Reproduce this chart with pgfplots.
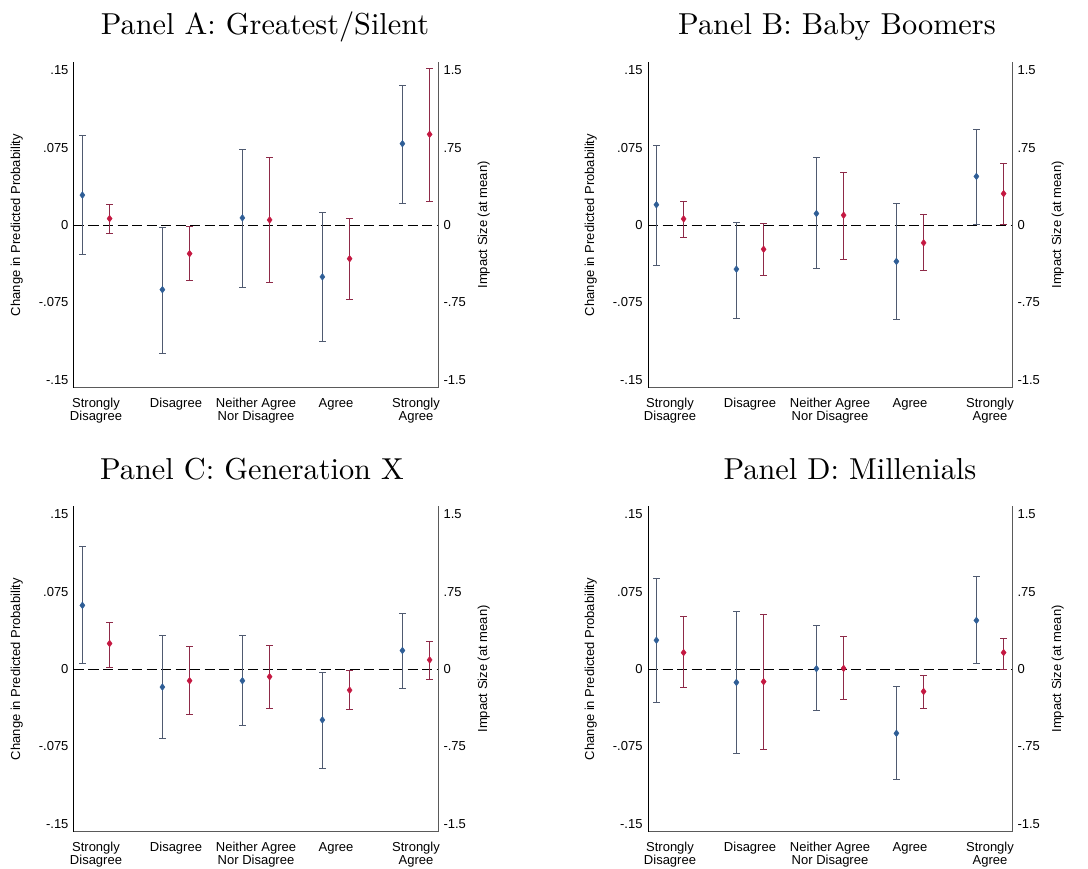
\documentclass[border=0pt]{standalone}
\usepackage{pgfplots}
\pgfplotsset{compat=1.18}
\usepackage{pgfplotstable}
\usepackage{fontspec}
\newfontfamily\arial{Liberation Sans}
\definecolor{bmark}{HTML}{2F5E96}
\definecolor{bci}{HTML}{4F5A70}
\definecolor{rmark}{HTML}{C41841}
\definecolor{rci}{HTML}{8E2A48}
\definecolor{axgray}{HTML}{5A5A5A}

% columns: xb = blue position, by/blo/bhi = change in predicted probability (left axis)
%          xr = red position, ry/rlo/rhi = impact size at mean (right axis)
\pgfplotstableread{
xb by blo bhi xr ry rlo rhi
0.83 0.0290 -0.0290 0.0870 1.17 0.062 -0.082 0.200
1.83 -0.0627 -0.1248 -0.0026 2.17 -0.278 -0.539 -0.013
2.83 0.0069 -0.0608 0.0735 3.17 0.049 -0.559 0.654
3.83 -0.0503 -0.1131 0.0118 4.17 -0.327 -0.725 0.065
4.83 0.0788 0.0212 0.1353 5.17 0.879 0.229 1.513
}\dataA
\pgfplotstableread{
xb by blo bhi xr ry rlo rhi
0.83 0.0196 -0.0395 0.0771 1.17 0.059 -0.121 0.229
1.83 -0.0428 -0.0902 0.0026 2.17 -0.235 -0.493 0.013
2.83 0.0111 -0.0425 0.0650 3.17 0.095 -0.333 0.513
3.83 -0.0353 -0.0918 0.0212 4.17 -0.173 -0.441 0.101
4.83 0.0471 0.0007 0.0925 5.17 0.304 0.003 0.595
}\dataB
\pgfplotstableread{
xb by blo bhi xr ry rlo rhi
0.83 0.0617 0.0052 0.1188 1.17 0.247 0.016 0.455
1.83 -0.0175 -0.0672 0.0321 2.17 -0.114 -0.445 0.214
2.83 -0.0114 -0.0552 0.0321 3.17 -0.075 -0.383 0.224
3.83 -0.0494 -0.0961 -0.0032 4.17 -0.205 -0.396 -0.016
4.83 0.0179 -0.0185 0.0542 5.17 0.088 -0.097 0.266
}\dataC
\pgfplotstableread{
xb by blo bhi xr ry rlo rhi
0.83 0.0279 -0.0325 0.0877 1.17 0.159 -0.182 0.506
1.83 -0.0130 -0.0818 0.0555 2.17 -0.123 -0.782 0.532
2.83 0.0003 -0.0406 0.0419 3.17 0.006 -0.299 0.312
3.83 -0.0623 -0.1075 -0.0172 4.17 -0.218 -0.383 -0.062
4.83 0.0471 0.0049 0.0893 5.17 0.159 0.000 0.295
}\dataD

\newcommand\sfsmall{\arial\fontsize{13bp}{13bp}\selectfont}

\pgfplotsset{
  common/.style={
    anchor=south west, width=364bp, height=326bp, scale only axis,
    xmin=0.725, xmax=5.275, major tick length=0pt,
    tick label style={font=\sfsmall},
    label style={font=\sfsmall},
  },
  leftax/.style={
    common,
    ymin=-0.158, ymax=0.158,
    axis x line*=bottom, axis y line*=left,
    x axis line style={axgray, line width=1bp, -},
    y axis line style={black, line width=1bp, -},
    xtick={1,2,3,4,5},
    xticklabels={{Strongly\\Disagree},Disagree,{Neither Agree\\Nor Disagree},Agree,{Strongly\\Agree}},
    xticklabel style={align=center, yshift=-7bp},
    yticklabel style={xshift=-2bp},
    ytick={-0.15,-0.075,0,0.075,0.15},
    yticklabels={-.15,-.075,0,.075,.15},
    ylabel={Change in Predicted Probability},
    ylabel style={at={(axis description cs:-0.157,0.5)}, anchor=center},
  },
  rightax/.style={
    common,
    ymin=-1.58, ymax=1.58,
    hide x axis,
    axis y line*=right,
    y axis line style={axgray, line width=1bp, -},
    yticklabel style={xshift=2bp},
    ytick={-1.5,-0.75,0,0.75,1.5},
    yticklabels={-1.5,-.75,0,.75,1.5},
    ylabel={Impact Size (at mean)},
    ylabel style={at={(axis description cs:1.126,0.5)}, anchor=center},
  },
  bluepts/.style={only marks, mark=diamond*, mark size=3.4bp, color=bmark,
    error bars/.cd, y dir=both, y explicit,
    error bar style={bci, line width=0.9bp},
    error mark options={rotate=90, bci, line width=0.9bp, mark size=3.2bp}},
  redpts/.style={only marks, mark=diamond*, mark size=3.4bp, color=rmark,
    error bars/.cd, y dir=both, y explicit,
    error bar style={rci, line width=0.9bp},
    error mark options={rotate=90, rci, line width=0.9bp, mark size=3.2bp}},
}

\newcommand\panel[2]{%
  \begin{axis}[leftax, at={(#1)}]
    \addplot[black, line width=0.85bp, dash pattern=on 10bp off 4.5bp] coordinates {(0.725,0) (5.275,0)};
    \addplot[bluepts] table[x=xb, y=by, y error plus expr=\thisrow{bhi}-\thisrow{by}, y error minus expr=\thisrow{by}-\thisrow{blo}] {#2};
  \end{axis}
  \begin{axis}[rightax, at={(#1)}]
    \addplot[redpts] table[x=xr, y=ry, y error plus expr=\thisrow{rhi}-\thisrow{ry}, y error minus expr=\thisrow{ry}-\thisrow{rlo}] {#2};
  \end{axis}
}

\begin{document}
\begin{tikzpicture}[x=1bp,y=1bp]
  \useasboundingbox (0,0) rectangle (1088,869);
  \coordinate (pA) at (74,481);
  \coordinate (pB) at (648,481);
  \coordinate (pC) at (74,37);
  \coordinate (pD) at (648,37);
  \panel{pA}{\dataA}
  \panel{pB}{\dataB}
  \panel{pC}{\dataC}
  \panel{pD}{\dataD}
  \node[anchor=base, scale=3.03, font=\fontsize{10bp}{12bp}\selectfont] at (265,834) {Panel A: Greatest/Silent};
  \node[anchor=base, scale=3.03, font=\fontsize{10bp}{12bp}\selectfont] at (837,834) {Panel B: Baby Boomers};
  \node[anchor=base, scale=3.03, font=\fontsize{10bp}{12bp}\selectfont] at (252,389) {Panel C: Generation X};
  \node[anchor=base, scale=3.03, font=\fontsize{10bp}{12bp}\selectfont] at (850,389) {Panel D: Millenials};
\end{tikzpicture}
\end{document}
